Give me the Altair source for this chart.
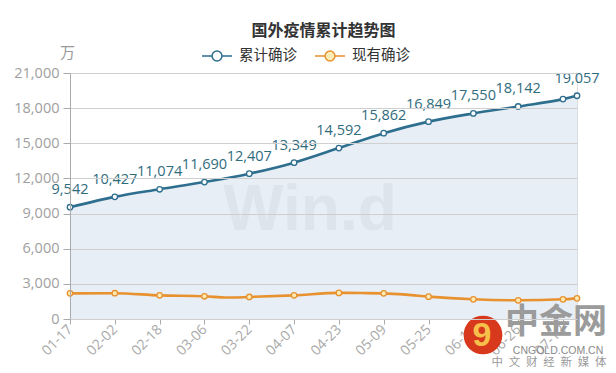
import altair as alt
import pandas as pd

# ---------------- data ----------------
title_text = "国外疫情累计趋势图"
series_names = ["累计确诊", "现有确诊"]
unit_label = "万"

dates = ["2021-01-17", "2021-02-02", "2021-02-18", "2021-03-06", "2021-03-22",
         "2021-04-07", "2021-04-23", "2021-05-09", "2021-05-25", "2021-06-10",
         "2021-06-26", "2021-07-12", "2021-07-17"]
cumulative = [9542, 10427, 11074, 11690, 12407, 13349, 14592, 15862, 16849,
              17550, 18142, 18770, 19057]
cumulative_labels = ["9,542", "10,427", "11,074", "11,690", "12,407", "13,349",
                     "14,592", "15,862", "16,849", "17,550", "18,142", "", "19,057"]
active = [2190, 2200, 2020, 1940, 1880, 2020, 2230, 2190, 1910, 1680, 1595, 1680, 1765]
active_extra_dates = ["2021-03-14", "2021-05-01", "2021-05-17"]
active_extra = [1830, 2215, 2080]

tick_labels = ["01-17", "02-02", "02-18", "03-06", "03-22", "04-07", "04-23",
               "05-09", "05-25", "06-10", "06-26", "07-12"]
y_ticks = [0, 3000, 6000, 9000, 12000, 15000, 18000, 21000]

watermark_text = "Win.d"
logo_texts = ["中金网", "CNGOLD.COM.CN", "中\u2002文\u2002财\u2002经\u2002新\u2002媒\u2002体"]

# ---------------- styles ----------------
BLUE = "#2e6e8e"
ORANGE = "#e8912f"
LABEL_BLUE = "#2f6c7d"
CJK = "Noto Sans CJK SC"
LATIN = "Open Sans"

def ts(d):
    return d + "T00:00:00"

cum_df = pd.DataFrame({
    "date": [ts(d) for d in dates],
    "value": cumulative,
    "label": cumulative_labels,
    "series": series_names[0],
    "pt": 1,
})
act_df = pd.DataFrame({
    "date": [ts(d) for d in dates] + [ts(d) for d in active_extra_dates],
    "value": active + active_extra,
    "label": "",
    "series": series_names[1],
    "pt": [1] * len(dates) + [0] * len(active_extra_dates),
})
all_df = pd.concat([cum_df, act_df], ignore_index=True)

def dt(s):
    y, m, d = s.split("-")
    return alt.DateTime(year=int(y), month=int(m), date=int(d))

tick_dates = [dt("2021-" + t) for t in tick_labels]

x_enc = alt.X(
    "date:T",
    scale=alt.Scale(domain=[dt(dates[0]), dt(dates[-1])], nice=False),
    axis=alt.Axis(values=tick_dates, format="%m-%d", labelAngle=315,
                  labelAlign="right", labelBaseline="middle", labelPadding=3,
                  labelColor="#a8a8a8", labelFontSize=14, labelFont=LATIN,
                  tickSize=5, tickColor="#aaaaaa", domainColor="#aaaaaa",
                  grid=False, title=None, labelOverlap=False),
)
y_enc = alt.Y(
    "value:Q",
    scale=alt.Scale(domain=[0, 21000], nice=False),
    axis=alt.Axis(values=y_ticks, format=",.0f", title=unit_label, titleAngle=0,
                  titleX=-3, titleY=-21, titleAlign="center", titleBaseline="middle",
                  titleColor="#9a9a9a", titleFontSize=15, titleFontWeight="normal",
                  titleFont=CJK, labelColor="#a0a0a0", labelFontSize=14.5,
                  labelFont=LATIN, labelPadding=4, tickSize=7, tickColor="#aaaaaa",
                  domainColor="#aaaaaa", gridColor="#cfcfcf", zindex=1),
)

legend_path = ("M-1,0L-0.33,0M0.33,0L1,0M0.33,0A0.33,0.33,0,1,1,-0.33,0"
               "A0.33,0.33,0,1,1,0.33,0")

area = alt.Chart(cum_df).mark_area(color="#e8eef5", interpolate="monotone").encode(
    x=x_enc, y=y_enc)

wm = alt.Chart(pd.DataFrame({"t": [watermark_text]})).mark_text(
    font="Liberation Sans", fontWeight="bold", fontSize=64, color="#dde4ec",
    align="center", baseline="alphabetic").encode(
    text="t:N", x=alt.value(240), y=alt.value(157))

lines = alt.Chart(all_df).mark_line(interpolate="monotone", strokeWidth=2.6).encode(
    x=x_enc, y=y_enc,
    color=alt.Color("series:N",
                    scale=alt.Scale(domain=series_names, range=[BLUE, ORANGE]),
                    legend=alt.Legend(orient="none", legendX=131, legendY=-33,
                                      direction="horizontal", title=None,
                                      symbolType=legend_path, symbolSize=900,
                                      symbolStrokeWidth=1.5, labelFontSize=14.5,
                                      labelColor="#333333", labelFont=CJK,
                                      labelOffset=6, columnPadding=15)),
)

points = alt.Chart(all_df).transform_filter("datum.pt == 1").mark_point(
    filled=True, size=30, strokeWidth=1.3, opacity=1).encode(
    x=x_enc, y=y_enc,
    stroke=alt.Stroke("series:N",
                      scale=alt.Scale(domain=series_names, range=[BLUE, ORANGE]),
                      legend=None),
    fill=alt.Fill("series:N",
                  scale=alt.Scale(domain=series_names, range=["#ffffff", "#fdebb5"]),
                  legend=None),
)

labels = alt.Chart(cum_df).mark_text(
    font=LATIN, fontSize=14.5, color=LABEL_BLUE, align="center",
    baseline="alphabetic", dy=-13).encode(x=x_enc, y=y_enc, text="label:N")

logo_circle = alt.Chart(pd.DataFrame({"a": [1]})).mark_point(
    shape="circle", filled=True, size=1500, color="#d8391d", opacity=1).encode(
    x=alt.value(413), y=alt.value(262))
logo_nine = alt.Chart(pd.DataFrame({"t": ["9"]})).mark_text(
    font="Liberation Sans", fontWeight="bold", fontSize=34, color="#f7c04a",
    align="center", baseline="middle").encode(
    text="t:N", x=alt.value(412), y=alt.value(263))
logo_main = alt.Chart(pd.DataFrame({"t": [logo_texts[0]]})).mark_text(
    font=CJK, fontWeight="bold", fontSize=34, color="#9b9b9b",
    align="center", baseline="middle").encode(
    text="t:N", x=alt.value(486), y=alt.value(250))
logo_url = alt.Chart(pd.DataFrame({"t": [logo_texts[1]]})).mark_text(
    font="Liberation Sans", fontSize=10.5, color="#8a8a8a",
    align="center", baseline="middle").encode(
    text="t:N", x=alt.value(488), y=alt.value(278))
logo_sub = alt.Chart(pd.DataFrame({"t": [logo_texts[2]]})).mark_text(
    font=CJK, fontSize=11.5, color="#9a9a9a",
    align="center", baseline="middle").encode(
    text="t:N", x=alt.value(479), y=alt.value(290))

chart = alt.layer(
    area, wm, lines, points, labels,
    logo_circle, logo_nine, logo_main, logo_url, logo_sub,
).properties(
    width=507, height=246,
    title=alt.TitleParams(title_text, fontSize=16, fontWeight="bold",
                          color="#333333", font=CJK, anchor="middle", offset=1),
    autosize=alt.AutoSizeParams(type="none"),
    padding={"left": 70, "top": 73, "right": 39, "bottom": 54},
).configure_view(stroke=None).configure(background="white")

chart.save("out.html", embed_options={"renderer": "svg", "actions": False})
